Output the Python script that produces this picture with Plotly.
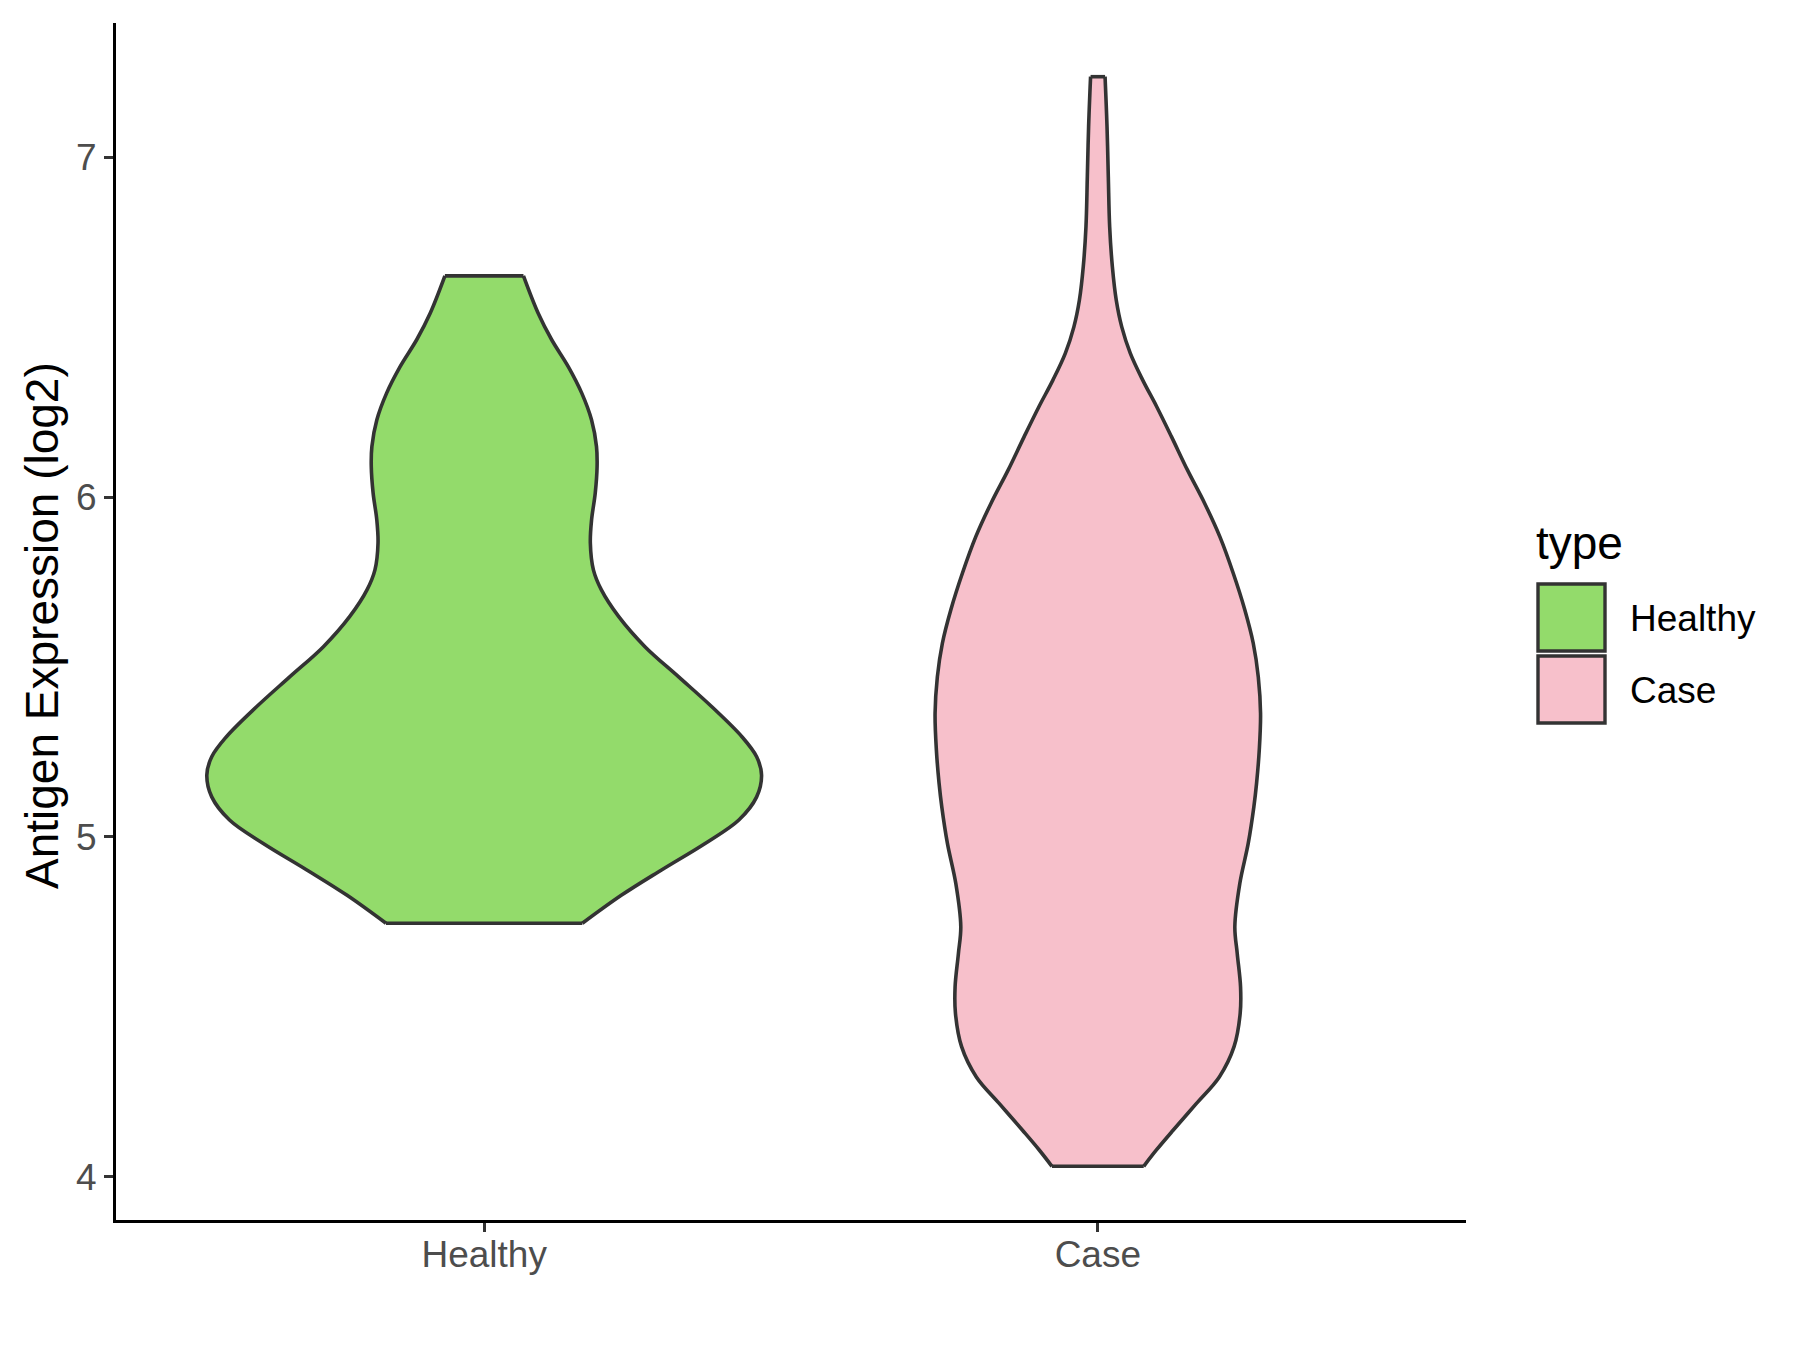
import plotly.graph_objects as go

# ---- data ----
categories = ["Healthy", "Case"]
fill_colors = ["#93DB6B", "#F7C0CB"]

healthy_y = [6.651, 6.541, 6.463, 6.384, 6.306, 6.227, 6.149, 6.090, 6.012, 5.933,
             5.865, 5.786, 5.727, 5.649, 5.560, 5.471, 5.383, 5.295, 5.236, 5.182,
             5.118, 5.050, 4.981, 4.903, 4.829, 4.746]
healthy_halfwidth = [0.064, 0.088, 0.110, 0.137, 0.159, 0.175, 0.183, 0.184, 0.181, 0.175,
                     0.173, 0.178, 0.191, 0.219, 0.262, 0.317, 0.371, 0.420, 0.444, 0.452,
                     0.444, 0.415, 0.360, 0.289, 0.224, 0.160]

case_y = [7.237, 7.090, 6.943, 6.796, 6.678, 6.580, 6.501, 6.423, 6.345, 6.266,
          6.178, 6.080, 5.982, 5.883, 5.776, 5.668, 5.570, 5.471, 5.364, 5.256,
          5.158, 5.089, 4.981, 4.863, 4.736, 4.657, 4.559, 4.481, 4.383, 4.294,
          4.216, 4.137, 4.079, 4.031]
case_halfwidth = [0.0118, 0.0150, 0.0171, 0.0193, 0.0237, 0.0300, 0.0390, 0.0530, 0.0730, 0.0960,
                  0.1200, 0.1460, 0.1740, 0.1990, 0.2207, 0.2396, 0.2533, 0.2615, 0.2652, 0.2631,
                  0.2587, 0.2543, 0.2451, 0.2314, 0.2233, 0.2272, 0.2326, 0.2320, 0.2220, 0.1980,
                  0.1608, 0.1227, 0.0955, 0.0748]

y_ticks = [4, 5, 6, 7]

profiles = [(healthy_y, healthy_halfwidth), (case_y, case_halfwidth)]

# ---- layout geometry (page pixels) ----
W, H = 1800, 1350
L, R, T, B = 116, 1466, 23, 1220
FONT = "Liberation Sans, Arial, sans-serif"
OUTLINE = "#333333"
LW = 3.6


def px(xp):
    return (xp - L) / (R - L)


def py(yp):
    return (B - yp) / (B - T)


fig = go.Figure()

for i, (name, col) in enumerate(zip(categories, fill_colors)):
    ys, ws = profiles[i]
    c = i + 1
    # left edge
    fig.add_trace(go.Scatter(
        x=[c - w for w in ws], y=ys, mode="lines",
        line=dict(color=OUTLINE, width=LW, shape="spline", smoothing=1.0),
        showlegend=False, hoverinfo="skip",
    ))
    # right edge, filled to the left edge
    fig.add_trace(go.Scatter(
        x=[c + w for w in ws], y=ys, mode="lines", fill="tonextx", fillcolor=col,
        line=dict(color=OUTLINE, width=LW, shape="spline", smoothing=1.0),
        name=name, showlegend=False, hoverinfo="skip",
    ))
    # flat caps (trimmed ends)
    fig.add_trace(go.Scatter(
        x=[c - ws[0], c + ws[0], None, c - ws[-1], c + ws[-1]],
        y=[ys[0], ys[0], None, ys[-1], ys[-1]],
        mode="lines", line=dict(color=OUTLINE, width=LW),
        showlegend=False, hoverinfo="skip", connectgaps=False,
    ))

axis_common = dict(
    showgrid=False, zeroline=False, showline=True, linecolor="black", linewidth=3,
    ticks="outside", ticklen=9, tickwidth=2.5, tickcolor=OUTLINE,
    tickfont=dict(family=FONT, size=37, color="#4D4D4D"),
)

fig.update_layout(
    width=W, height=H,
    margin=dict(l=L, r=W - R, t=T, b=H - B),
    paper_bgcolor="white", plot_bgcolor="white",
    font=dict(family=FONT, color="#4D4D4D", size=37),
    xaxis=dict(range=[0.4, 2.6], tickvals=[1, 2], ticktext=categories,
               ticklabelstandoff=-9, **axis_common),
    yaxis=dict(range=[3.873, 7.395], tickvals=y_ticks,
               ticktext=[str(v) for v in y_ticks], **axis_common),
)

annotations = [
    dict(text="Antigen Expression (log2)", xref="paper", yref="paper",
         x=px(42), y=py(626), xanchor="center", yanchor="middle", textangle=-90,
         showarrow=False, font=dict(family=FONT, size=46, color="black")),
    dict(text="type", xref="paper", yref="paper", x=px(1534), y=py(543),
         xanchor="left", yanchor="middle", showarrow=False,
         font=dict(family=FONT, size=46, color="black")),
]
shapes = []
key_tops = [584, 656]
for name, col, top in zip(categories, fill_colors, key_tops):
    shapes.append(dict(type="rect", xref="paper", yref="paper",
                       x0=px(1538), x1=px(1605), y0=py(top + 67), y1=py(top),
                       fillcolor=col, line=dict(color=OUTLINE, width=3.4)))
    annotations.append(dict(text=name, xref="paper", yref="paper",
                            x=px(1628), y=py(top + 34), xanchor="left", yanchor="middle",
                            showarrow=False, font=dict(family=FONT, size=37, color="black")))

fig.update_layout(annotations=annotations, shapes=shapes)

fig.write_html("out.html", config={"displayModeBar": False},
               post_script="document.body.style.margin='0';document.body.style.padding='0';")
